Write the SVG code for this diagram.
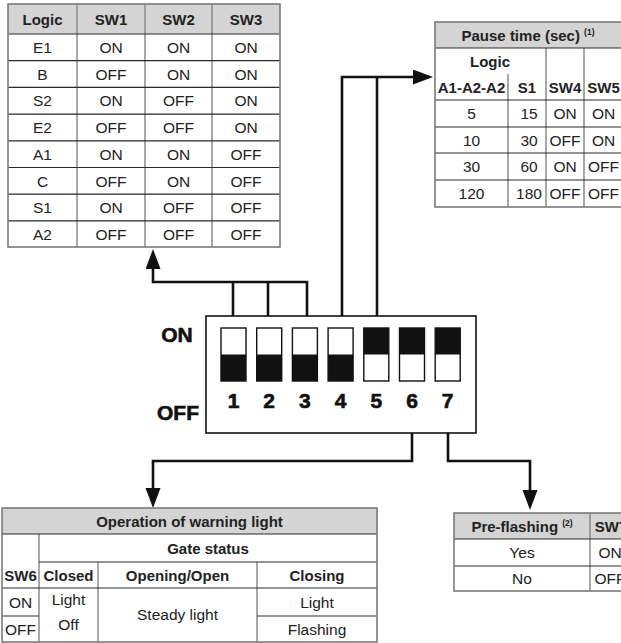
<svg xmlns="http://www.w3.org/2000/svg" width="621" height="643" viewBox="0 0 621 643">
<defs>
<style>
.bg{fill:#ffffff}
.hdr{fill:#d4d4d4}
.gh{stroke:#2a2a2a;stroke-width:1.2;fill:none}
.gv{stroke:#8a8a8a;stroke-width:1.5;fill:none}
.outer{fill:none;stroke:#7a7a7a;stroke-width:1.6}
.t{font-family:"Liberation Sans",Arial,sans-serif;font-size:15.5px;fill:#222;text-anchor:middle}
.b{font-weight:bold;font-size:15px}
.sup{font-size:8.5px;font-weight:bold}
.conn{fill:none;stroke:#111;stroke-width:2.6;stroke-linejoin:miter}
.box{fill:#fff;stroke:#111;stroke-width:1.6}
.sw{fill:#fff;stroke:#111;stroke-width:1.4}
.swk{fill:#111}
.dip{font-family:"Liberation Sans",Arial,sans-serif;font-weight:bold;font-size:21px;fill:#111;stroke:#111;stroke-width:0.6;text-anchor:middle}
</style>
<marker id="arr" markerUnits="userSpaceOnUse" markerWidth="21" markerHeight="16" refX="0" refY="7.5" orient="auto">
<path d="M0,0 L20,7.5 L0,15 z" fill="#111"/>
</marker>
</defs>
<rect class="bg" x="0" y="0" width="621" height="643"/>

<g id="connectors">
<path class="conn" d="M233,316 V282"/>
<path class="conn" d="M268,316 V282"/>
<path class="conn" d="M307,316 V282 H153 V269" marker-end="url(#arr)"/>
<path class="conn" d="M377,316 V77"/>
<path class="conn" d="M342,316 V77 H413" marker-end="url(#arr)"/>
<path class="conn" d="M412,433 V461 H153 V488" marker-end="url(#arr)"/>
<path class="conn" d="M448,433 V461 H530 V490" marker-end="url(#arr)"/>
</g>

<g id="table-logic">
<rect class="hdr" x="8" y="4" width="272" height="30"/>
<path class="gv" d="M77,4 V247 M145,4 V247 M212,4 V247"/>
<path class="gh" d="M8,34 H280 M8,60.7 H280 M8,87.4 H280 M8,114.1 H280 M8,140.8 H280 M8,167.5 H280 M8,194.2 H280 M8,220.9 H280"/>
<rect class="outer" x="8" y="4" width="272" height="243"/>
<g class="t b">
<text x="42.5" y="24.5">Logic</text><text x="111" y="24.5">SW1</text><text x="178.5" y="24.5">SW2</text><text x="246" y="24.5">SW3</text>
</g>
<g class="t">
<text x="42.5" y="53">E1</text><text x="111" y="53">ON</text><text x="178.5" y="53">ON</text><text x="246" y="53">ON</text>
<text x="42.5" y="79.7">B</text><text x="111" y="79.7">OFF</text><text x="178.5" y="79.7">ON</text><text x="246" y="79.7">ON</text>
<text x="42.5" y="106.4">S2</text><text x="111" y="106.4">ON</text><text x="178.5" y="106.4">OFF</text><text x="246" y="106.4">ON</text>
<text x="42.5" y="133.1">E2</text><text x="111" y="133.1">OFF</text><text x="178.5" y="133.1">OFF</text><text x="246" y="133.1">ON</text>
<text x="42.5" y="159.8">A1</text><text x="111" y="159.8">ON</text><text x="178.5" y="159.8">ON</text><text x="246" y="159.8">OFF</text>
<text x="42.5" y="186.5">C</text><text x="111" y="186.5">OFF</text><text x="178.5" y="186.5">ON</text><text x="246" y="186.5">OFF</text>
<text x="42.5" y="213.2">S1</text><text x="111" y="213.2">ON</text><text x="178.5" y="213.2">OFF</text><text x="246" y="213.2">OFF</text>
<text x="42.5" y="239.9">A2</text><text x="111" y="239.9">OFF</text><text x="178.5" y="239.9">OFF</text><text x="246" y="239.9">OFF</text>
</g>
</g>

<g id="table-pause">
<rect class="hdr" x="435" y="22" width="188" height="26"/>
<path class="gv" d="M508,74 V207 M546,48 V207 M584,48 V207"/>
<path class="gh" d="M435,48 H623 M435,100 H623 M435,127 H623 M435,153 H623 M435,180 H623"/>
<rect class="outer" x="435" y="22" width="188" height="185"/>
<text class="t b" x="528" y="40.5">Pause time (sec) <tspan class="sup" dy="-6">(1)</tspan></text>
<g class="t b">
<text x="490" y="67">Logic</text>
<text x="471.5" y="93">A1-A2-A2</text><text x="527" y="93">S1</text><text x="565" y="93">SW4</text><text x="603.5" y="93">SW5</text>
</g>
<g class="t">
<text x="471.5" y="119">5</text><text x="529" y="119">15</text><text x="565" y="119">ON</text><text x="603.5" y="119">ON</text>
<text x="471.5" y="145.5">10</text><text x="529" y="145.5">30</text><text x="565" y="145.5">OFF</text><text x="603.5" y="145.5">ON</text>
<text x="471.5" y="172">30</text><text x="529" y="172">60</text><text x="565" y="172">ON</text><text x="603.5" y="172">OFF</text>
<text x="471.5" y="199">120</text><text x="529" y="199">180</text><text x="565" y="199">OFF</text><text x="603.5" y="199">OFF</text>
</g>
</g>

<g id="dip-switch">
<text class="dip" x="177" y="342">ON</text>
<text class="dip" x="178" y="420">OFF</text>
<rect class="box" x="206" y="316" width="270" height="117"/>
<rect class="sw" x="221" y="328" width="25" height="53"/><rect class="swk" x="221" y="354.5" width="25" height="26.5"/>
<rect class="sw" x="256.7" y="328" width="25" height="53"/><rect class="swk" x="256.7" y="354.5" width="25" height="26.5"/>
<rect class="sw" x="292.4" y="328" width="25" height="53"/><rect class="swk" x="292.4" y="354.5" width="25" height="26.5"/>
<rect class="sw" x="328.1" y="328" width="25" height="53"/><rect class="swk" x="328.1" y="354.5" width="25" height="26.5"/>
<rect class="sw" x="363.8" y="328" width="25" height="53"/><rect class="swk" x="363.8" y="328" width="25" height="26.5"/>
<rect class="sw" x="399.5" y="328" width="25" height="53"/><rect class="swk" x="399.5" y="328" width="25" height="26.5"/>
<rect class="sw" x="435.2" y="328" width="25" height="53"/><rect class="swk" x="435.2" y="328" width="25" height="26.5"/>
<text class="dip" x="233.5" y="408">1</text>
<text class="dip" x="269.2" y="408">2</text>
<text class="dip" x="304.9" y="408">3</text>
<text class="dip" x="340.6" y="408">4</text>
<text class="dip" x="376.3" y="408">5</text>
<text class="dip" x="412" y="408">6</text>
<text class="dip" x="447.7" y="408">7</text>
</g>

<g id="table-warning">
<rect class="hdr" x="2" y="508" width="375" height="26"/>
<path class="gv" d="M39,534 V642 M98,562 V642 M257,562 V642"/>
<path class="gh" d="M2,534 H377 M39,562 H377 M2,588 H377 M2,616 H39 M257,616 H377"/>
<rect class="outer" x="2" y="508" width="375" height="134"/>
<g class="t b">
<text x="189.5" y="526.5">Operation of warning light</text>
<text x="208" y="554">Gate status</text>
<text x="20.5" y="581">SW6</text><text x="68.5" y="581">Closed</text><text x="177.5" y="581">Opening/Open</text><text x="317" y="581">Closing</text>
</g>
<g class="t">
<text x="20.5" y="608">ON</text><text x="20.5" y="635">OFF</text>
<text x="68.5" y="605">Light</text><text x="68.5" y="630">Off</text>
<text x="177.5" y="620">Steady light</text>
<text x="317" y="608">Light</text><text x="317" y="635">Flashing</text>
</g>
</g>

<g id="table-preflash">
<rect class="hdr" x="454" y="513" width="176" height="26"/>
<path class="gv" d="M590,513 V591"/>
<path class="gh" d="M454,539 H630 M454,566 H630"/>
<rect class="outer" x="454" y="513" width="176" height="78"/>
<text class="t b" x="522" y="531.5">Pre-flashing <tspan class="sup" dy="-6">(2)</tspan></text>
<text class="t b" x="611" y="531.5">SW7</text>
<g class="t">
<text x="522" y="558">Yes</text><text x="610" y="558">ON</text>
<text x="522" y="584">No</text><text x="610" y="584">OFF</text>
</g>
</g>
</svg>
